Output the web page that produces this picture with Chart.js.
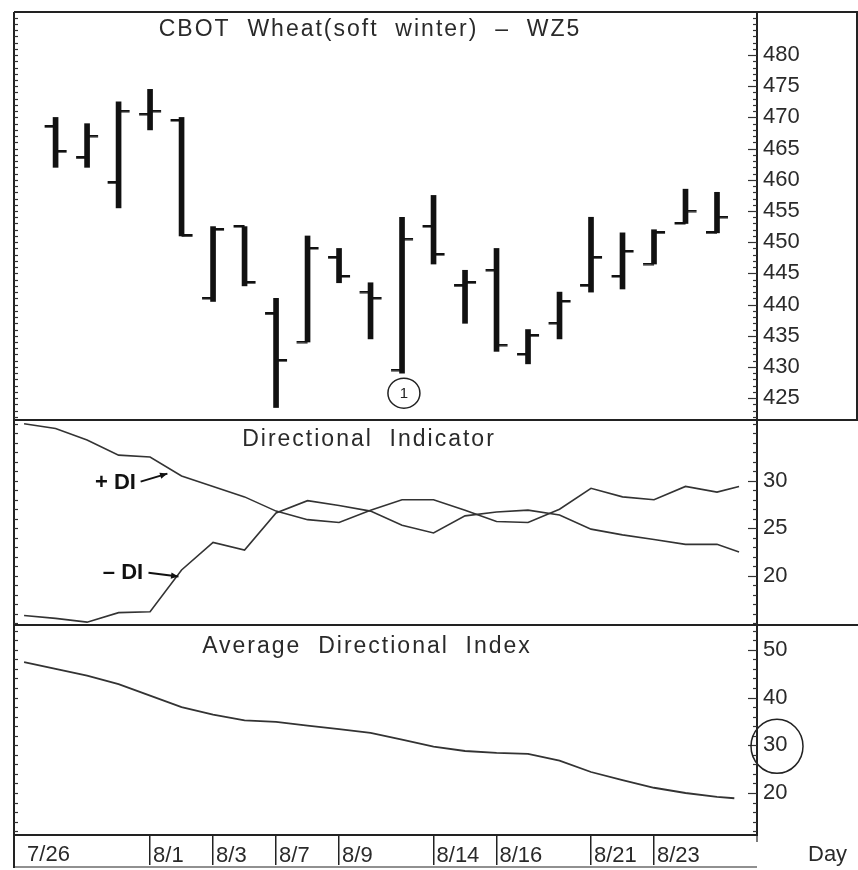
<!DOCTYPE html>
<html><head><meta charset="utf-8">
<script src="https://cdn.jsdelivr.net/npm/chart.js@4.4.0/dist/chart.umd.min.js"></script>
<style>html,body{margin:0;padding:0;background:#fff;}#wrap{width:858px;height:870px;}</style>
</head><body><div id="wrap"><canvas id="c" width="858" height="870"></canvas></div>
<script>
// ---- data ----
const dates = ['7/26','7/27','7/28','7/31','8/1','8/2','8/3','8/4','8/7','8/8','8/9','8/10','8/11','8/14','8/15','8/16','8/17','8/18','8/21','8/22','8/23','8/24','8/25'];
const labeledDays = [0,4,6,8,10,13,15,18,20];
const barDays = [1,2,3,4,5,6,7,8,9,10,11,12,13,14,15,16,17,18,19,20,21,22];
const openP  = [468.5,463.5,459.5,470.5,469.5,441,452.5,438.5,434,447.5,442,429.5,452.5,443,445.5,432,437,443,444.5,446.5,453,451.5];
const highP  = [470,469,472.5,474.5,470,452.5,452.5,441,451,449,443.5,454,457.5,445.5,449,436,442,454,451.5,452,458.5,458];
const lowP   = [462,462,455.5,468,451,440.5,443,423.5,434,443.5,434.5,429,446.5,437,432.5,430.5,434.5,442,442.5,446.5,453,451.5];
const closeP = [464.5,467,471,471,451,452,443.5,431,449,444.5,441,450.5,448,443.5,433.5,435,440.5,447.5,448.5,451.5,455,454];
const priceTicks = [425,430,435,440,445,450,455,460,465,470,475,480];

const indDays = [0,1,2,3,4,5,6,7,8,9,10,11,12,13,14,15,16,17,18,19,20,21,22,22.7];
const plusDI  = [36.0,35.5,34.3,32.7,32.5,30.5,29.4,28.3,26.8,25.9,25.6,26.9,28.0,28.0,26.9,25.7,25.6,27.0,29.2,28.3,28.0,29.4,28.8,29.4];
const minusDI = [15.8,15.5,15.1,16.1,16.2,20.6,23.5,22.7,26.6,27.9,27.4,26.8,25.3,24.5,26.3,26.7,26.9,26.4,24.9,24.3,23.8,23.3,23.3,22.5];
const diTicks = [20,25,30];

const adxDays = [0,1,2,3,4,5,6,7,8,9,10,11,12,13,14,15,16,17,18,19,20,21,22,22.55];
const adx = [47.4,46.0,44.6,42.8,40.4,38.0,36.4,35.2,34.9,34.1,33.4,32.6,31.2,29.7,28.8,28.4,28.2,26.8,24.4,22.7,21.1,20.0,19.2,18.9];
const adxTicks = [20,30,40,50];

// ---- tick glyphs for open (left) / close (right) ----
function tickImg(side){
  const c = document.createElement('canvas'); c.width = 24; c.height = 3;
  const g = c.getContext('2d'); g.fillStyle = '#111';
  if (side === 'left') g.fillRect(1, 0, 11, 2.5); else g.fillRect(12, 0, 11, 2.5);
  return c;
}

const FONT = "'Liberation Sans', Arial, sans-serif";
Chart.defaults.font.family = FONT;

const frame = {
  id: 'frame',
  afterDraw(chart){
    const ctx = chart.ctx, ca = chart.chartArea;
    const sx = chart.scales.x, sp = chart.scales.yPrice, sd = chart.scales.yDI, sa = chart.scales.yADX;
    ctx.save();
    ctx.strokeStyle = '#222'; ctx.lineWidth = 2;
    const ln = (a,b,c,d) => { ctx.beginPath(); ctx.moveTo(a,b); ctx.lineTo(c,d); ctx.stroke(); };
    ln(ca.left, ca.top, 858, ca.top);
    ln(ca.left, ca.top, ca.left, 868);
    ln(ca.left, sp.bottom, 858, sp.bottom);
    ln(ca.left, sd.bottom, 858, sd.bottom);
    ln(857, ca.top, 857, sp.bottom);
    ctx.lineWidth = 1.2;
    ln(ca.left, 867, ca.right, 867);
    ln(ca.right, ca.bottom, ca.right, 842);

    // minor ticks on both frame edges
    ctx.lineWidth = 1.2; ctx.strokeStyle = '#333';
    const ticks = (scale, step, majors) => {
      const a = Math.ceil(scale.min / step), b = Math.floor(scale.max / step);
      for (let k = a; k <= b; k++) {
        const v = k * step, y = Math.round(scale.getPixelForValue(v)) + 0.5;
        const len = majors.includes(v) ? 9 : 4;
        ln(ca.right, y, ca.right - len, y);
        ln(ca.left, y, ca.left + 4, y);
      }
    };
    ticks(sp, 1, priceTicks);
    ticks(sd, 1, diTicks);
    ticks(sa, 2, adxTicks);

    // panel titles
    ctx.fillStyle = '#2a2a2a'; ctx.textAlign = 'center'; ctx.textBaseline = 'middle';
    ctx.letterSpacing = '2px';
    ctx.font = '23px ' + FONT;
    ctx.fillText('CBOT  Wheat(soft  winter)  –  WZ5', ca.left + 356, sp.top + 18);
    ctx.font = '23px ' + FONT;
    ctx.fillText('Directional  Indicator', ca.left + 355, sd.top + 20);
    ctx.fillText('Average  Directional  Index', ca.left + 353, sa.top + 22);
    ctx.letterSpacing = '0px';

    // Day label
    ctx.textAlign = 'left'; ctx.font = '22px ' + FONT;
    ctx.fillText('Day', ca.right + 51, 855);

    // DI labels with arrows
    ctx.font = 'bold 22px ' + FONT; ctx.fillStyle = '#111';
    const arrow = (x1,y1,x2,y2) => {
      ctx.lineWidth = 2; ctx.strokeStyle = '#111';
      ln(x1,y1,x2,y2);
      const ang = Math.atan2(y2-y1, x2-x1);
      ctx.beginPath(); ctx.moveTo(x2,y2);
      ctx.lineTo(x2 - 8*Math.cos(ang-0.4), y2 - 8*Math.sin(ang-0.4));
      ctx.lineTo(x2 - 8*Math.cos(ang+0.4), y2 - 8*Math.sin(ang+0.4));
      ctx.closePath(); ctx.fill();
    };
    const pY = sd.getPixelForValue(29.8);
    ctx.fillText('+ DI', sx.getPixelForValue(2.25), pY);
    arrow(sx.getPixelForValue(3.7), pY - 1, sx.getPixelForValue(4.55), sd.getPixelForValue(30.75));
    const mY = sd.getPixelForValue(20.3);
    ctx.fillText('– DI', sx.getPixelForValue(2.5), mY);
    arrow(sx.getPixelForValue(3.95), mY, sx.getPixelForValue(4.9), sd.getPixelForValue(19.9));

    // circled 1 under the 8/11 bar
    ctx.lineWidth = 1.5; ctx.strokeStyle = '#222';
    const cx = sx.getPixelForValue(12.06), cy = sp.getPixelForValue(425.8);
    ctx.beginPath(); ctx.ellipse(cx, cy, 16, 15, 0, 0, Math.PI*2); ctx.stroke();
    ctx.font = '15px ' + FONT; ctx.textAlign = 'center'; ctx.fillStyle = '#222';
    ctx.fillText('1', cx, cy + 1);

    // circle around 30 on ADX axis
    const ay = sa.getPixelForValue(30);
    ctx.beginPath(); ctx.ellipse(ca.right + 20, ay + 1, 26, 27, 0, 0, Math.PI*2); ctx.stroke();
    ctx.restore();
  }
};

const rightAxis = (ticksArr, min, max, weight) => ({
  type: 'linear', position: 'right', stack: 'panels', stackWeight: weight,
  min, max, offset: false,
  afterBuildTicks(s){ s.ticks = ticksArr.map(v => ({value: v})); },
  afterFit(s){ s.width = 101; },
  grid: { display: false, drawOnChartArea: false },
  border: { display: true, color: '#222', width: 2 },
  ticks: { padding: -2, color: '#2a2a2a', font: { size: 22 }, autoSkip: false }
});

new Chart(document.getElementById('c'), {
  type: 'bar',
  data: {
    datasets: [
      { type: 'bar', label: 'High-Low', yAxisID: 'yPrice', xAxisID: 'x',
        data: barDays.map((d,k) => ({x: d, y: [lowP[k], highP[k]]})),
        backgroundColor: '#111', borderWidth: 0, barThickness: 5 },
      { type: 'line', label: 'Open', yAxisID: 'yPrice', xAxisID: 'x', showLine: false,
        data: barDays.map((d,k) => ({x: d, y: openP[k]})),
        pointStyle: tickImg('left'), pointRadius: 6 },
      { type: 'line', label: 'Close', yAxisID: 'yPrice', xAxisID: 'x', showLine: false,
        data: barDays.map((d,k) => ({x: d, y: closeP[k]})),
        pointStyle: tickImg('right'), pointRadius: 6 },
      { type: 'line', label: '+DI', yAxisID: 'yDI', xAxisID: 'x',
        data: indDays.map((d,k) => ({x: d, y: plusDI[k]})),
        borderColor: '#333', borderWidth: 1.6, pointRadius: 0, tension: 0, fill: false },
      { type: 'line', label: '-DI', yAxisID: 'yDI', xAxisID: 'x',
        data: indDays.map((d,k) => ({x: d, y: minusDI[k]})),
        borderColor: '#333', borderWidth: 1.6, pointRadius: 0, tension: 0, fill: false },
      { type: 'line', label: 'ADX', yAxisID: 'yADX', xAxisID: 'x',
        data: adxDays.map((d,k) => ({x: d, y: adx[k]})),
        borderColor: '#333', borderWidth: 1.8, pointRadius: 0, tension: 0, fill: false }
    ]
  },
  options: {
    responsive: false, animation: false,
    plugins: { legend: { display: false }, tooltip: { enabled: false } },
    layout: { padding: { left: 14, top: 12, right: 0, bottom: 0 } },
    scales: {
      x: {
        type: 'linear', position: 'bottom', min: -0.32, max: 23.27, offset: false,
        afterBuildTicks(s){ s.ticks = labeledDays.filter(v => v > 0).map(v => ({value: v})); },
        afterFit(s){ s.height = 35; },
        grid: { display: true, offset: false, drawOnChartArea: false, tickLength: 30, color: '#222', lineWidth: 1.5 },
        border: { display: true, color: '#222', width: 2 },
        ticks: { callback: v => dates[v], align: 'start', labelOffset: 3, padding: -22,
                 color: '#2a2a2a', font: { size: 22 }, autoSkip: false, maxRotation: 0 }
      },
      yPrice: rightAxis(priceTicks, 421.5, 486.9, 408),
      yDI: rightAxis(diTicks, 14.8, 36.4, 205),
      yADX: rightAxis(adxTicks, 11.2, 55.2, 210)
    }
  },
  plugins: [frame, {
    id: 'firstLabel',
    afterDraw(chart){
      // first date label (7/26) sits against the left frame, without a separator
      const ctx = chart.ctx, sx = chart.scales.x;
      ctx.save(); ctx.fillStyle = '#2a2a2a'; ctx.font = '22px ' + FONT;
      ctx.textAlign = 'left'; ctx.textBaseline = 'middle';
      ctx.fillText(dates[labeledDays[0]], sx.getPixelForValue(labeledDays[0]) + 3, 855);
      ctx.restore();
    }
  }]
});
</script></body></html>
